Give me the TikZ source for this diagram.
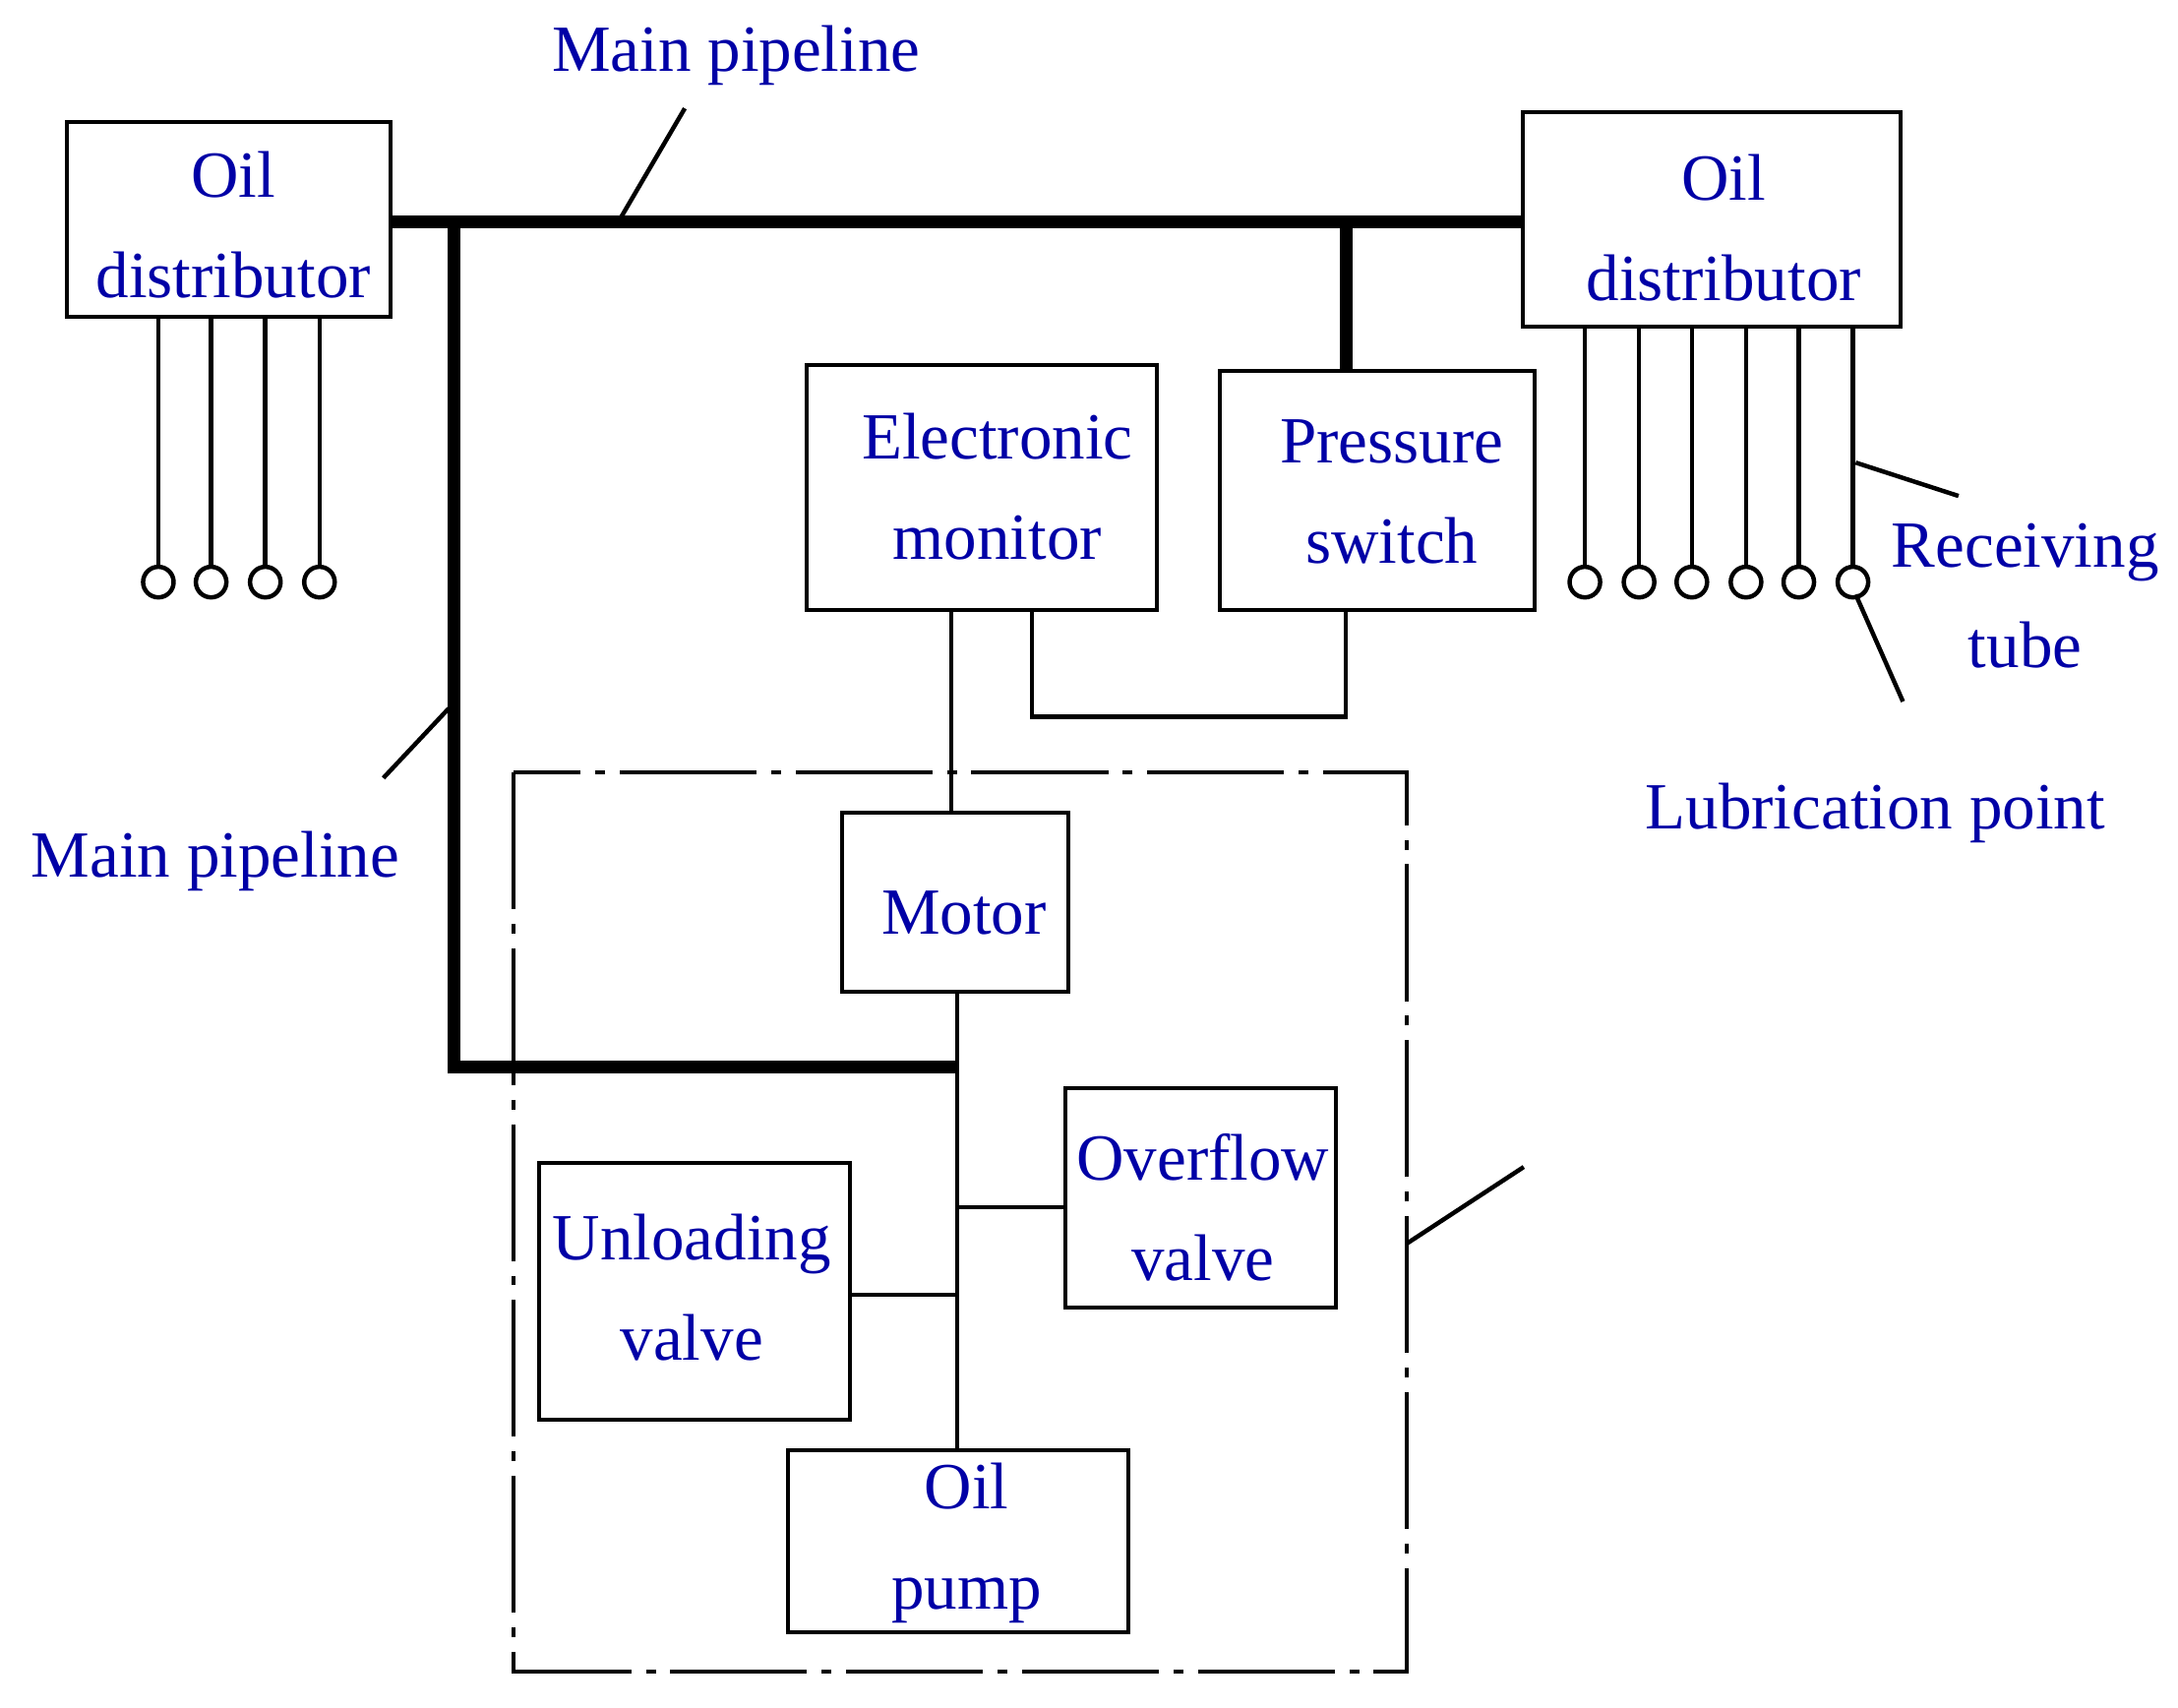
\documentclass[tikz,border=0pt]{standalone}
\usepackage{fontspec}
\setmainfont{Liberation Serif}
\begin{document}
\begin{tikzpicture}[x=0.01cm,y=-0.01cm,
 box/.style={draw,thick,inner sep=0},
 lbl/.style={text=blue!65!black,font=\fontsize{13.5}{20.5}\selectfont,align=center},
 thin/.style={draw,line width=0.9pt},
 pipe/.style={draw,line width=2.6pt},
 lead/.style={draw,line width=0.9pt}]
\useasboundingbox (0,0) rectangle (1568,1229);
% boxes
\draw[box] (48,88) rectangle (281,228); \node[lbl] (od1) at (168,162) {Oil\\distributor};
\draw[box] (1096,81) rectangle (1368,235); \node[lbl] (od2) at (1241,164) {Oil\\distributor};
\draw[box] (581,263) rectangle (833,439); \node[lbl] (em) at (718,350) {Electronic\\monitor};
\draw[box] (878,267) rectangle (1105,439); \node[lbl] (ps) at (1002,354) {Pressure\\switch};
\draw[box] (606,585) rectangle (769,714); \node[lbl] (mo) at (694,657) {Motor};
\draw[box] (767,783) rectangle (962,941); \node[lbl] (ov) at (866,869) {Overflow\\valve};
\draw[box] (388,837) rectangle (612,1022); \node[lbl] (uv) at (498,927) {Unloading\\valve};
\draw[box] (567,1044) rectangle (812,1175); \node[lbl] (op) at (696,1111) {Oil\\pump};
\draw[thick,dash pattern=on 28pt off 3pt on 2pt off 3pt] (370,556) rectangle (1013,1203);
% pipes
\draw[pipe] (281,160) -- (1096,160);
\draw[pipe] (327,160) -- (327,768) -- (689,768);
\draw[pipe] (969,160) -- (969,267);
% thin connections
\draw[thin] (743,439) -- (743,516) -- (969,516) -- (969,439);
\draw[thin] (685,439) -- (685,585);
\draw[thin] (689,714) -- (689,1044);
\draw[thin] (689,869) -- (767,869);
\draw[thin] (612,932) -- (689,932);
% receiving tubes
\foreach \x in {114,152,191,230}{\draw[thin] (\x,228) -- (\x,408); \draw[thin] (\x,419) circle[radius=11];}
\foreach \x in {1141,1180,1218,1257,1295,1334}{\draw[thin] (\x,235) -- (\x,408); \draw[thin] (\x,419) circle[radius=11];}
% labels and leaders
\node[lbl] (mp1) at (530,40) {Main pipeline};
\draw[lead] (445,160) -- (493,78);
\node[lbl] (mp2) at (155,620) {Main pipeline};
\draw[lead] (323,510) -- (276,560);
\node[lbl] (rt) at (1458,429) {Receiving\\tube};
\draw[lead] (1336,333) -- (1410,357);
\node[lbl] (lp) at (1350,585) {Lubrication point};
\draw[lead] (1336,428) -- (1370,505);
\draw[lead] (1013,895) -- (1097,840);
\end{tikzpicture}
\end{document}
